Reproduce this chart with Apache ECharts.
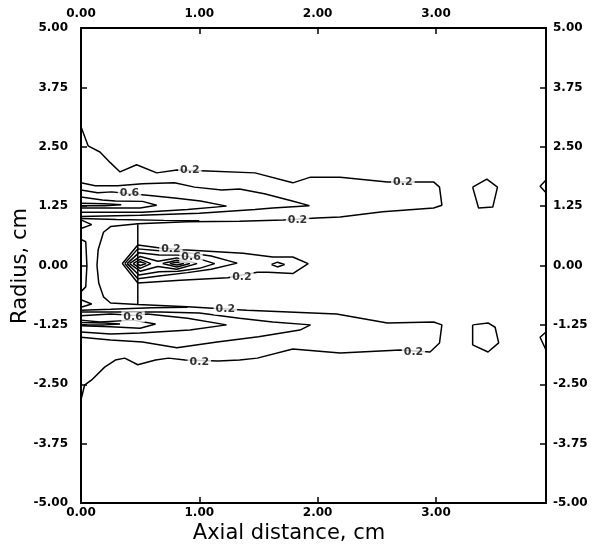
<!DOCTYPE html>
<html>
<head>
<meta charset="utf-8">
<script src="https://cdn.jsdelivr.net/npm/echarts@6/dist/echarts.min.js"></script>
<style>
  html, body { margin: 0; padding: 0; background: #fff; }
  #chart { width: 593px; height: 547px; }
</style>
</head>
<body>
<div id="chart"></div>
<script>
// Axis ranges (cm)
const axialRange = [0, 3.93];
const radiusRange = [-5, 5];
const axialStep = 1;
const radiusStep = 1.25;

// Contour paths, [axial distance, radius] in cm.
// Outer 0.2 contour: wraps the upper jet, the core and the lower jet.
const level02Outer = [
  [0, 2.92], [0.06, 2.52], [0.16, 2.39], [0.25, 2.16], [0.33, 1.97], [0.47, 2.12], [0.64, 1.95],
  [0.81, 2.01], [1.07, 1.99], [1.47, 1.95], [1.79, 1.74], [1.94, 1.86], [2.19, 1.86], [2.59, 1.76],
  [2.87, 1.76], [2.98, 1.76], [3.03, 1.65], [3.05, 1.27], [2.98, 1.21], [2.55, 1.13], [2.19, 1.02],
  [1.99, 1.0], [1.71, 0.96], [1.34, 0.93], [0.90, 0.92], [0.48, 0.88], [0.25, 0.82], [0.19, 0.70],
  [0.145, 0.33], [0.135, 0.0], [0.15, -0.37], [0.19, -0.66], [0.25, -0.79], [0.48, -0.82],
  [0.90, -0.87], [1.40, -0.94], [2.16, -1.02], [2.59, -1.21], [2.98, -1.19], [3.05, -1.25],
  [3.03, -1.63], [2.95, -1.82], [2.70, -1.78], [2.19, -1.84], [1.79, -1.76], [1.49, -1.95],
  [1.34, -1.99], [1.16, -2.01], [0.88, -1.99], [0.74, -1.95], [0.63, -1.99], [0.48, -2.09],
  [0.37, -1.95], [0.29, -1.99], [0.20, -2.14], [0.09, -2.41], [0.03, -2.52], [0, -2.83]
];
const level02UpperInner = [[0, 0.99], [0.30, 0.97], [0.70, 0.95], [1.0, 0.94]];
const level02LowerInner = [[0, -0.94], [0.25, -0.92], [0.60, -0.89], [0.90, -0.88]];

// Upper jet (r ~ +1.25)
const upperJet04 = [
  [0, 1.74], [0.12, 1.68], [0.31, 1.68], [0.52, 1.72], [0.79, 1.74], [0.96, 1.65], [1.19, 1.59],
  [1.34, 1.61], [1.55, 1.51], [1.77, 1.37], [1.93, 1.26], [1.62, 1.21], [1.47, 1.18], [1.0, 1.10],
  [0.5, 1.06], [0, 1.03]
];
const upperJet06 = [
  [0, 1.59], [0.14, 1.53], [0.26, 1.55], [0.41, 1.51], [0.56, 1.48], [0.79, 1.42], [1.01, 1.36],
  [1.23, 1.25], [0.90, 1.18], [0.52, 1.12], [0, 1.12]
];
const upperJet08 = [
  [0, 1.44], [0.18, 1.38], [0.29, 1.36], [0.52, 1.35], [0.64, 1.27], [0.50, 1.21], [0.25, 1.21], [0, 1.21]
];
const upperJet10 = [[0, 1.31], [0.20, 1.30], [0.34, 1.28], [0.20, 1.26], [0, 1.26]];

// Lower jet (r ~ -1.25)
const lowerJet04 = [
  [0, -0.98], [0.25, -0.98], [0.67, -0.98], [1.0, -1.0], [1.34, -1.11], [1.62, -1.19], [1.94, -1.25],
  [1.85, -1.36], [1.50, -1.50], [1.15, -1.61], [0.81, -1.73], [0.52, -1.61], [0.25, -1.57], [0, -1.51]
];
const lowerJet06 = [
  [0, -1.06], [0.25, -1.02], [0.44, -1.05], [0.56, -1.02], [0.90, -1.11], [1.23, -1.25],
  [0.92, -1.36], [0.50, -1.42], [0.25, -1.44], [0, -1.40]
];
const lowerJet08 = [
  [0, -1.15], [0.16, -1.19], [0.44, -1.15], [0.63, -1.23], [0.50, -1.32], [0.25, -1.29], [0, -1.27]
];
const lowerJet10 = [[0, -1.20], [0.20, -1.21], [0.33, -1.23], [0.20, -1.25], [0, -1.25]];

// Core region on the axis
const core02 = [
  [0.48, 0.43], [0.67, 0.37], [0.86, 0.33], [1.37, 0.26], [1.62, 0.18], [1.79, 0.18], [1.92, 0.04],
  [1.79, -0.17], [1.58, -0.14], [1.49, -0.14], [1.24, -0.26], [0.84, -0.31], [0.48, -0.37],
  [0.35, 0.04], [0.48, 0.43]
];
const core04 = [
  [0.37, 0.04], [0.48, 0.35], [0.66, 0.31], [0.90, 0.27], [1.10, 0.20], [1.32, 0.05], [1.10, -0.08],
  [0.90, -0.15], [0.66, -0.22], [0.48, -0.28], [0.37, 0.04]
];
const core06 = [
  [0.39, 0.04], [0.49, 0.27], [0.66, 0.22], [0.82, 0.22], [1.00, 0.14], [1.13, 0.04], [1.00, -0.06],
  [0.82, -0.12], [0.66, -0.13], [0.49, -0.20], [0.39, 0.04]
];
const core08 = [
  [0.41, 0.04], [0.50, 0.19], [0.65, 0.09], [0.81, 0.16], [0.98, 0.04], [0.81, -0.08], [0.65, -0.02],
  [0.50, -0.12], [0.41, 0.04]
];
const core10Left = [[0.44, 0.04], [0.50, 0.13], [0.59, 0.04], [0.50, -0.06], [0.44, 0.04]];
const core10Right = [[0.69, 0.04], [0.81, 0.11], [0.92, 0.04], [0.81, -0.03], [0.69, 0.04]];
const core12Left = [[0.47, 0.04], [0.50, 0.08], [0.55, 0.04], [0.50, 0.00], [0.47, 0.04]];
const core12Right = [[0.75, 0.04], [0.81, 0.07], [0.87, 0.04], [0.81, 0.01], [0.75, 0.04]];
const coreIsland = [[1.61, 0.02], [1.66, 0.07], [1.72, 0.02], [1.66, -0.03], [1.61, 0.02]];
const stationBreak = [[0.48, 0.87], [0.48, -0.83]];

// Small closed contours near the axis and at the far field
const axisLoop = [[0, 0.55], [0.04, 0.50], [0.05, 0.0], [0.04, -0.45], [0, -0.55]];
const axisWedgeUpper = [[0, 0.96], [0.09, 0.86], [0, 0.78]];
const axisWedgeLower = [[0, -0.72], [0.09, -0.81], [0, -0.88]];
const farIslandUpper = [[3.31, 1.65], [3.43, 1.82], [3.52, 1.65], [3.48, 1.23], [3.36, 1.21], [3.31, 1.65]];
const farIslandLower = [[3.31, -1.25], [3.44, -1.21], [3.50, -1.30], [3.53, -1.63], [3.44, -1.82], [3.31, -1.67], [3.31, -1.25]];
const edgeWedgeUpper = [[3.93, 1.80], [3.88, 1.67], [3.93, 1.53]];
const edgeWedgeLower = [[3.93, -1.40], [3.88, -1.51], [3.93, -1.78]];

// Contour value labels: [axial, radius, text]
const contourLabels = [
  [0.92, 2.01, '0.2'], [2.72, 1.76, '0.2'], [0.41, 1.52, '0.6'], [1.83, 0.96, '0.2'],
  [0.76, 0.35, '0.2'], [0.93, 0.17, '0.6'], [1.36, -0.24, '0.2'], [1.22, -0.92, '0.2'],
  [0.44, -1.08, '0.6'], [2.81, -1.82, '0.2'], [1.0, -2.03, '0.2']
];

const paths = [
  level02Outer, level02UpperInner, level02LowerInner,
  upperJet04, upperJet06, upperJet08, upperJet10,
  lowerJet04, lowerJet06, lowerJet08, lowerJet10,
  core02, core04, core06, core08, core10Left, core10Right, core12Left, core12Right,
  coreIsland, stationBreak, axisLoop, axisWedgeUpper, axisWedgeLower,
  farIslandUpper, farIslandLower, edgeWedgeUpper, edgeWedgeLower
];

const tickFont = { fontFamily: 'DejaVu Sans', fontWeight: 'bold', fontSize: 12, color: '#000' };
const fmt = v => (Math.abs(v) < 1e-9 ? 0 : v).toFixed(2);

function xAxisDef(position) {
  return {
    type: 'value', position, gridIndex: 0,
    min: axialRange[0], max: axialRange[1], interval: axialStep,
    axisLine: { show: true, onZero: false, lineStyle: { color: '#000', width: 2 } },
    axisTick: { show: true, inside: true, length: 6, lineStyle: { color: '#000', width: 1.5 } },
    axisLabel: Object.assign({ formatter: fmt, margin: position === 'top' ? 8 : 4, showMaxLabel: false }, tickFont),
    splitLine: { show: false }
  };
}
function yAxisDef(position) {
  return {
    type: 'value', position, gridIndex: 0,
    min: radiusRange[0], max: radiusRange[1], interval: radiusStep,
    axisLine: { show: true, onZero: false, lineStyle: { color: '#000', width: 2 } },
    axisTick: { show: true, inside: true, length: 6, lineStyle: { color: '#000', width: 1.5 } },
    axisLabel: Object.assign({ formatter: fmt, margin: position === 'left' ? 13 : 7 }, tickFont),
    splitLine: { show: false }
  };
}

const series = paths.map(p => ({
  type: 'line', xAxisIndex: 0, yAxisIndex: 0, data: p,
  showSymbol: false, symbol: 'none', smooth: false, silent: true,
  lineStyle: { color: '#000', width: 1.5 }, z: 2
}));
series.push({
  type: 'scatter', xAxisIndex: 0, yAxisIndex: 0, symbolSize: 1, silent: true, z: 5,
  itemStyle: { color: 'transparent' },
  data: contourLabels.map(d => ({ value: [d[0], d[1]], name: d[2] })),
  label: {
    show: true, position: 'inside', formatter: p => p.name,
    fontFamily: 'DejaVu Sans', fontWeight: 'bold', fontSize: 11, color: '#000',
    backgroundColor: '#fff', padding: [0, 2]
  }
});

const chart = echarts.init(document.getElementById('chart'), null, { renderer: 'canvas' });
chart.setOption({
  animation: false,
  backgroundColor: '#fff',
  grid: { left: 81, right: 47, top: 28, bottom: 44, containLabel: false },
  xAxis: [xAxisDef('bottom'), xAxisDef('top')],
  yAxis: [yAxisDef('left'), yAxisDef('right')],
  series,
  graphic: [
    { type: 'text', rotation: Math.PI / 2, x: 21, y: 266,
      style: { text: 'Radius, cm', font: '21px "DejaVu Sans"', fill: '#000', textAlign: 'center', textVerticalAlign: 'middle' } },
    { type: 'text', x: 289, y: 534,
      style: { text: 'Axial distance, cm', font: '21px "DejaVu Sans"', fill: '#000', textAlign: 'center', textVerticalAlign: 'middle' } }
  ]
});
</script>
</body>
</html>
